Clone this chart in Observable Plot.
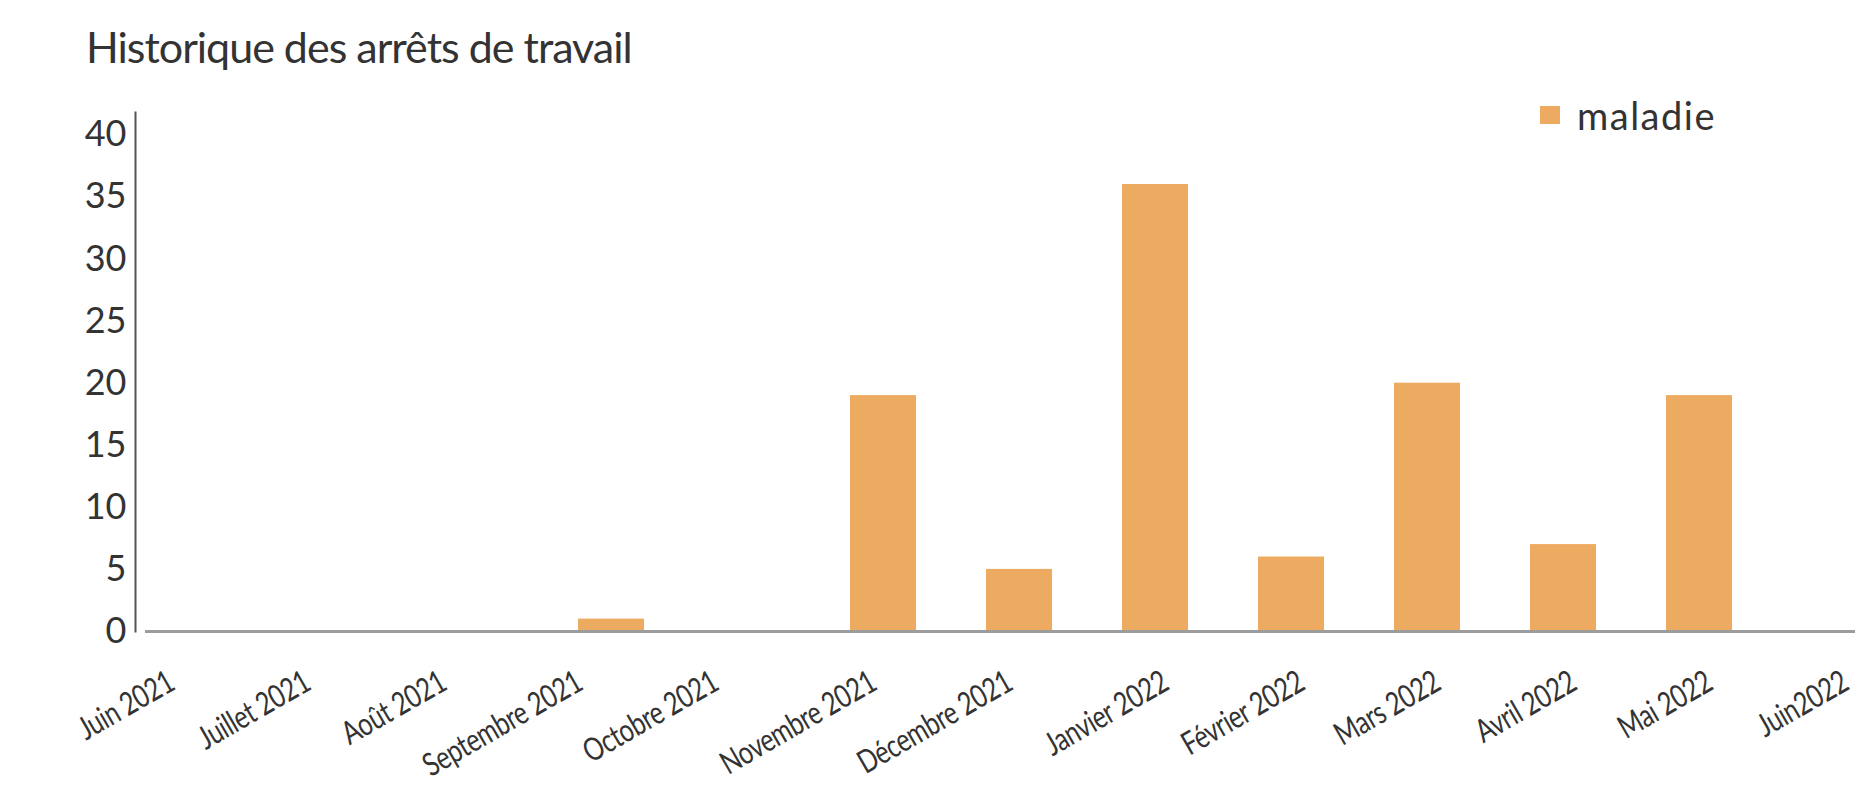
<!DOCTYPE html>
<html lang="fr">
<head>
<meta charset="utf-8">
<title>Historique des arrêts de travail</title>
<script src="https://cdn.jsdelivr.net/npm/d3@7"></script>
<script src="https://cdn.jsdelivr.net/npm/@observablehq/plot@0.6"></script>
<style>
  html, body { margin: 0; padding: 0; background: #fff; }
  body { font-family: Lato, "Open Sans", sans-serif; color: #333; }
  #wrap { position: relative; width: 1855px; height: 786px; overflow: hidden; }
  #title { position: absolute; left: 86px; top: 25px; font-size: 43px; line-height: 1; font-weight: 400; color: #333; letter-spacing: -1px; white-space: nowrap; }
  #chart { position: absolute; left: 0; top: 90px; }
  #legend { position: absolute; left: 1540px; top: 92px; display: flex; align-items: center; font-size: 38px; letter-spacing: 1.5px; color: #333; }
  #legend .swatch { width: 20px; height: 18px; margin-right: 17px; }
  #chart g[aria-label="x-axis tick label"] text { letter-spacing: -0.5px; }
</style>
</head>
<body>
<div id="wrap">
  <div id="title">Historique des arrêts de travail</div>
  <div id="chart"></div>
  <div id="legend"></div>
</div>
<script>
// Months shown on the x axis (one band each)
const months = [
  "Juin 2021", "Juillet 2021", "Août 2021", "Septembre 2021", "Octobre 2021",
  "Novembre 2021", "Décembre 2021", "Janvier 2022", "Février 2022",
  "Mars 2022", "Avril 2022", "Mai 2022", "Juin2022"
];
// Number of sick-leave stops per month
const maladie = [0, 0, 0, 1, 0, 19, 5, 36, 6, 20, 7, 19, 0];
// Y axis tick values
const yTicks = [0, 5, 10, 15, 20, 25, 30, 35, 40];

const seriesName = "maladie";
const barColor = "#EDAB62";

const data = months.map((m, i) => ({month: m, value: maladie[i]}));

// Month labels share one style; they are laid out in three groups
const monthAxis = (ticks, dx) =>
  Plot.axisX({ticks, dx, tickSize: 0, tickPadding: 48, tickRotate: -30, fontSize: 32, label: null});

const chart = Plot.plot({
  width: 1855,
  height: 696,
  marginTop: 22,
  marginBottom: 155,
  marginLeft: 135,
  marginRight: 0,
  style: {fontFamily: "Lato, 'Open Sans', sans-serif", color: "#333", background: "transparent"},
  x: {
    type: "band",
    domain: months,
    range: [131.75, 1906.25],
    paddingInner: 0.516,
    paddingOuter: 0.258,
    label: null
  },
  y: {domain: [0, 41.8], label: null},
  marks: [
    Plot.frame({anchor: "left", stroke: "#555", strokeWidth: 2}),
    Plot.barY(data, {x: "month", y: "value", fill: barColor}),
    Plot.ruleY([0], {stroke: "#9c9c9c", strokeWidth: 3, insetLeft: 10}),
    Plot.axisY({ticks: yTicks, tickSize: 0, tickPadding: 9, fontSize: 36, label: null}),
    monthAxis(months.slice(0, 5), -32),
    monthAxis(months.slice(5, 7), -10),
    monthAxis(months.slice(7), 10)
  ]
});

// Slightly condensed month labels along their rotated baseline
chart.querySelectorAll('g[aria-label="x-axis tick label"] text').forEach((t) => {
  const tr = t.getAttribute("transform");
  if (tr) t.setAttribute("transform", tr + " scale(0.78,1)");
});

document.getElementById("chart").appendChild(chart);

// Legend swatch for the single series
const legend = document.getElementById("legend");
const sw = document.createElement("span");
sw.className = "swatch";
sw.style.background = barColor;
const lab = document.createElement("span");
lab.textContent = seriesName;
legend.appendChild(sw);
legend.appendChild(lab);
</script>
</body>
</html>
